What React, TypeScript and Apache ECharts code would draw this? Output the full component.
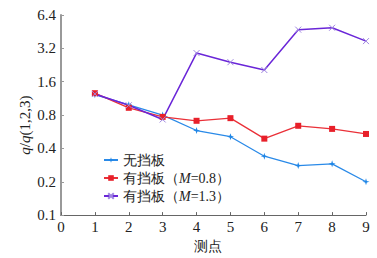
import React, { useEffect, useRef } from "react";
import * as echarts from "echarts";

const points = [1, 2, 3, 4, 5, 6, 7, 8, 9];
const noBaffle = [1.22, 0.99, 0.8, 0.58, 0.51, 0.34, 0.28, 0.29, 0.2];
const baffle08 = [1.26, 0.93, 0.77, 0.71, 0.75, 0.49, 0.64, 0.6, 0.54];
const baffle13 = [1.24, 0.98, 0.73, 2.9, 2.4, 2.04, 4.72, 4.91, 3.72];
const yTickLabels = ["0.1", "0.2", "0.4", "0.8", "1.6", "3.2", "6.4"];
const yBase = 0.1;

const seriesNames = ["无挡板", "有挡板（M=0.8）", "有挡板（M=1.3）"];

const toLog = (v: number) => Math.log2(v / yBase);

const SERIF = "serif";

export default function App() {
  const ref = useRef<HTMLDivElement>(null);
  useEffect(() => {
    if (!ref.current) return;
    const chart = echarts.init(ref.current, undefined, { renderer: "svg" });
    const mk = (vals: number[]) => vals.map((v, i) => [points[i], toLog(v)]);
    chart.setOption({
      animation: false,
      textStyle: { fontFamily: SERIF },
      grid: { left: 61, right: 11, top: 15, bottom: 37, containLabel: false },
      legend: {
        orient: "vertical",
        left: 98,
        top: 148,
        itemWidth: 14,
        itemHeight: 7,
        itemGap: 4,
        data: seriesNames,
        textStyle: {
          fontFamily: SERIF,
          fontSize: 14,
          color: "#222",
          rich: {
            i: { fontStyle: "italic", fontFamily: SERIF, fontSize: 14, color: "#222" },
          },
        },
        formatter: (name: string) => name.replace("M=", "{i|M}="),
      },
      xAxis: {
        type: "value",
        min: 0,
        max: 9,
        interval: 1,
        name: "测点",
        nameLocation: "middle",
        nameGap: 21,
        nameTextStyle: { fontFamily: SERIF, fontSize: 14, color: "#222", padding: [0, 12, 0, 0] },
        axisLine: { show: true, lineStyle: { color: "#666", width: 1 } },
        axisTick: { show: true, inside: true, length: 3, lineStyle: { color: "#666" } },
        axisLabel: { fontFamily: SERIF, fontSize: 15, color: "#222", margin: 4 },
        splitLine: { show: false },
      },
      yAxis: {
        type: "value",
        min: 0,
        max: 6,
        interval: 1,
        name: "{i|q}/{i|q}(1,2,3){s|}",
        nameLocation: "middle",
        nameGap: 29,
        nameRotate: 90,
        nameMoveOverlap: false,
        nameTextStyle: {
          fontFamily: SERIF,
          fontSize: 15,
          color: "#222",
          rich: {
            i: { fontStyle: "italic", fontFamily: SERIF, fontSize: 15, color: "#222" },
            s: { width: 20 },
          },
        },
        axisLine: { show: true, lineStyle: { color: "#999", width: 2 } },
        axisTick: { show: true, inside: true, length: 3, lineStyle: { color: "#999" } },
        axisLabel: {
          fontFamily: SERIF,
          fontSize: 15,
          color: "#222",
          margin: 5,
          formatter: (v: number) => yTickLabels[Math.round(v)] ?? "",
        },
        splitLine: { show: false },
      },
      series: [
        {
          name: seriesNames[0],
          type: "line",
          data: mk(noBaffle),
          symbol: "path://M5,0L6.2,3.8L10,5L6.2,6.2L5,10L3.8,6.2L0,5L3.8,3.8Z",
          symbolSize: 7,
          itemStyle: { color: "#1f86e6" },
          lineStyle: { color: "#2a8ae8", width: 1.3 },
        },
        {
          name: seriesNames[1],
          type: "line",
          data: mk(baffle08),
          symbol: "rect",
          symbolSize: 6,
          itemStyle: { color: "#e8202a" },
          lineStyle: { color: "#ea3038", width: 1.3 },
        },
        {
          name: seriesNames[2],
          type: "line",
          data: mk(baffle13),
          symbol: "path://M0,0L10,10M10,0L0,10",
          symbolSize: 6,
          itemStyle: { color: "transparent", borderColor: "#9f86e0", borderWidth: 1 },
          lineStyle: { color: "#6a26d8", width: 1.5 },
        },
      ],
    });
    return () => chart.dispose();
  }, []);
  return (
    <div
      ref={ref}
      style={{ position: "fixed", left: 0, top: 0, width: 377, height: 258, background: "#fff" }}
    />
  );
}
